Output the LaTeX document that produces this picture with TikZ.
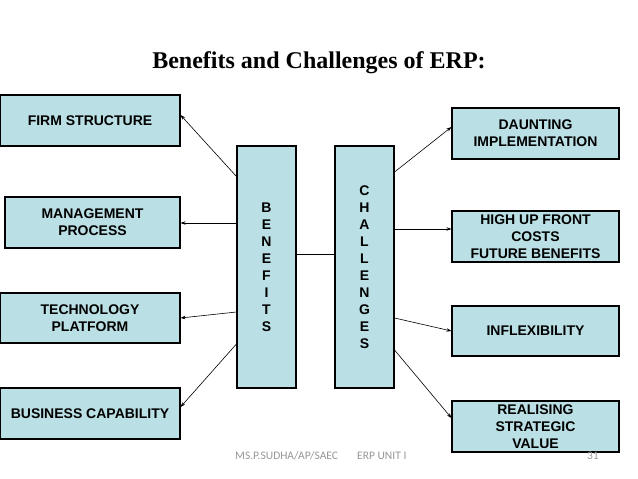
\documentclass[tikz,border=0pt]{standalone}
\usepackage{fontspec}
\setmainfont{Liberation Serif}
\setsansfont{Liberation Sans}
\newfontfamily\footfont{Carlito}
\usepackage{xcolor}
\usetikzlibrary{arrows.meta,positioning}
\definecolor{boxblue}{RGB}{186,223,228}
\definecolor{footgray}{RGB}{150,150,150}

\begin{document}
\begin{tikzpicture}[x=1pt, y=-1pt, >={Stealth[length=5pt,width=3.5pt]},
  every node/.style={font=\sffamily\bfseries\fontsize{14}{17}\selectfont, align=center, inner sep=0pt},
  box/.style={draw, line width=1.1pt, fill=boxblue, minimum width=180pt, minimum height=51pt},
  rbox/.style={box, minimum width=167pt},
  tall/.style={box, minimum width=59pt, minimum height=242pt},
  arr/.style={->, line width=0.6pt},
  foot/.style={font=\footfont\fontsize{11.5}{13}\selectfont, text=footgray, anchor=base west}]
  \useasboundingbox (0,0) rectangle (638,479);
  % title
  \node[font=\rmfamily\bfseries\fontsize{24}{28}\selectfont, anchor=base] (title) at (319,68) {Benefits and Challenges of ERP:};
  % left side
  \node[box] (firm) at (90,120.5) {FIRM STRUCTURE};
  \node[box, minimum width=175pt] (mgmt) at (92.5,222.5) {MANAGEMENT\\PROCESS};
  \node[box, minimum height=50pt] (tech) at (90,318) {TECHNOLOGY\\PLATFORM};
  \node[box] (bus) at (90,413.5) {BUSINESS CAPABILITY};
  % middle
  \node[tall] (ben) at (266.5,267) {B\\E\\N\\E\\F\\I\\T\\S};
  \node[tall] (chal) at (364.5,267) {C\\H\\A\\L\\L\\E\\N\\G\\E\\S};
  % right side
  \node[rbox] (daunt) at (535.5,133.5) {DAUNTING\\IMPLEMENTATION};
  \node[rbox] (cost) at (535.5,236.5) {HIGH UP FRONT\\COSTS\\FUTURE BENEFITS};
  \node[rbox, minimum height=50pt] (inflex) at (535.5,331) {INFLEXIBILITY};
  \node[rbox] (value) at (535.5,426.5) {REALISING\\STRATEGIC\\VALUE};
  % connectors
  \draw[line width=0.8pt] ([yshift=13pt]ben.east) -- ([yshift=13pt]chal.west);
  \draw[arr] ([yshift=-31pt]ben.north west) -- ([yshift=5.5pt]firm.east);
  \draw[arr] ([yshift=44pt]ben.west) -- ([yshift=-0.5pt]mgmt.east);
  \draw[arr] ([yshift=-45pt]ben.west) -- (tech.east);
  \draw[arr] ([yshift=-77pt]ben.west) -- ([yshift=6.5pt]bus.east);
  \draw[arr] ([yshift=95pt]chal.east) -- ([yshift=6.5pt]daunt.west);
  \draw[arr] ([yshift=38pt]chal.east) -- ([yshift=7.5pt]cost.west);
  \draw[arr] ([yshift=-51pt]chal.east) -- (inflex.west);
  \draw[arr] ([yshift=-83pt]chal.east) -- ([yshift=8.5pt]value.west);
  % footer
  \node[foot] (author) at (235,459) {MS.P.SUDHA/AP/SAEC};
  \node[foot] (unit) at (357,459) {ERP UNIT I};
  \node[foot, anchor=base east] (page) at (599,459) {31};
\end{tikzpicture}
\end{document}
